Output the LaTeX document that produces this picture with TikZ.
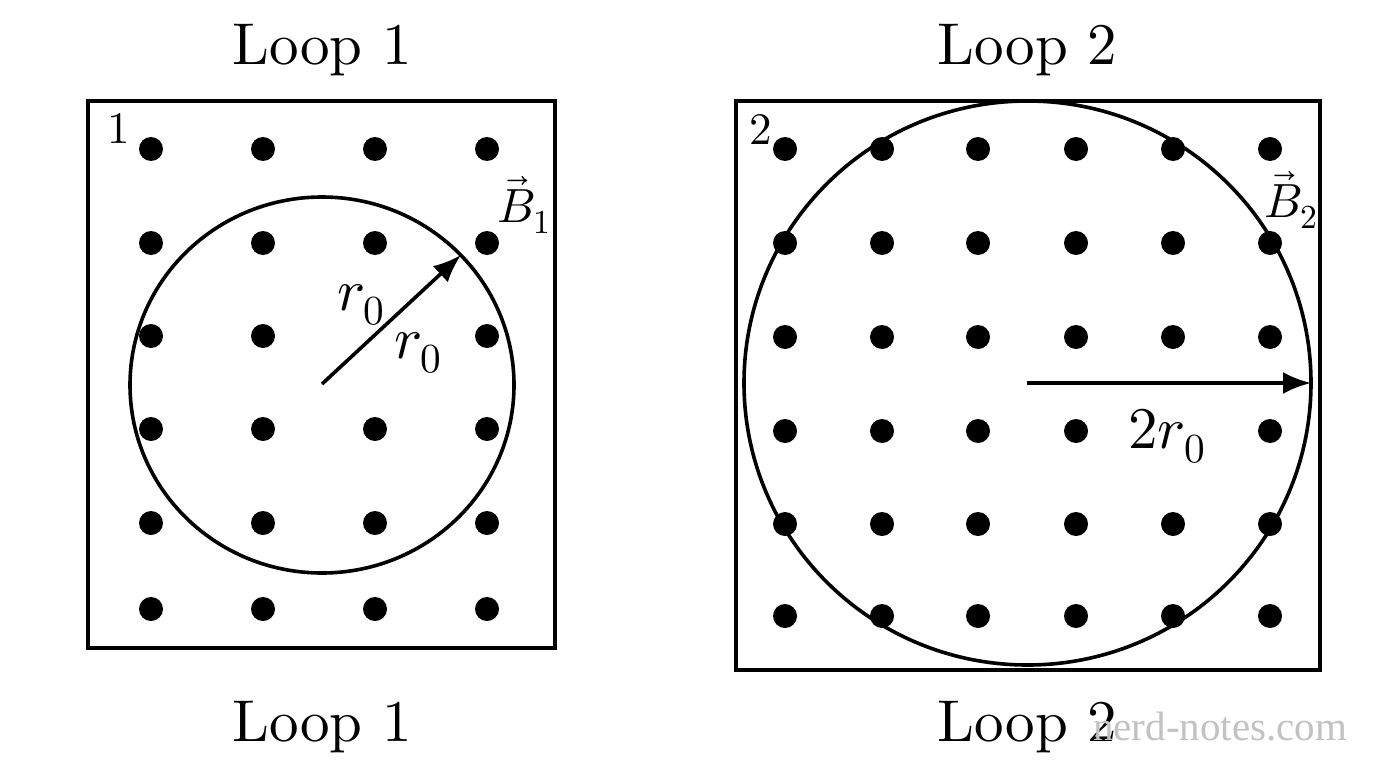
\documentclass[tikz,border=0pt]{standalone}
\usepackage{fontspec}
\usepackage{unicode-math}
\setmainfont{lmroman10-regular}[Extension=.otf]
\setmathfont{Latin Modern Math}
\usetikzlibrary{arrows.meta}
\newfontfamily\wmfont{Liberation Serif}
\tikzset{
  frame/.style={line width=3.4pt},
  loopline/.style={line width=3.6pt},
  radius arrow/.style={line width=3.6pt, -{Latex[length=28pt,width=22pt]}},
  bigtext/.style={inner sep=0pt, anchor=base, font=\fontsize{59}{59}\selectfont},
  mathlabel/.style={inner sep=0pt, anchor=base west, font=\fontsize{59}{59}\selectfont},
  blabel/.style={inner sep=0pt, anchor=base west, font=\fontsize{48}{48}\selectfont},
  cornerlabel/.style={inner sep=0pt, anchor=base west, font=\fontsize{45}{45}\selectfont},
  watermark/.style={inner sep=0pt, anchor=base west, text=black!24, font=\wmfont\fontsize{41}{41}\selectfont}
}
\begin{document}
\begin{tikzpicture}[x=1pt,y=-1pt]
\useasboundingbox (0,0) rectangle (1376,768);
\fill[white] (0,0) rectangle (1376,768);

% ---------- Loop 1 ----------
\draw[frame] (88,101) rectangle (555,648);
\foreach \x in {151,263,375,487}
  \foreach \y in {149,243,336,429,523,609}
    {\ifnum\x=375 \ifnum\y=336 \else \fill (\x,\y) circle[radius=12];\fi
     \else \fill (\x,\y) circle[radius=12];\fi}
\draw[loopline] (322,385) ellipse[x radius=192, y radius=188];
\coordinate (c1) at (322,384);
\coordinate (t1) at (461,255);
\draw[radius arrow] (c1) -- (t1);
\node[mathlabel] (r1a) at (337,310) {$r_0$};
\node[mathlabel] (r1b) at (394,358) {$r_0$};
\node[blabel] (B1) at (497,222) {$\vec{B}_1$};
\node[cornerlabel] (n1) at (107,143) {1};
\node[bigtext] (L1top) at (322,64) {Loop 1};
\node[bigtext] (L1bot) at (322,741) {Loop 1};

% ---------- Loop 2 ----------
\draw[frame] (736,101) rectangle (1320,670);
\foreach \x in {785,882,978,1076,1173,1270}
  \foreach \y in {149,243,337,431,524,616}
    {\ifnum\x=1173 \ifnum\y=431 \else \fill (\x,\y) circle[radius=12];\fi
     \else \fill (\x,\y) circle[radius=12];\fi}
\draw[loopline] (1027.5,383) ellipse[x radius=283.5, y radius=282];
\coordinate (c2) at (1027,383);
\coordinate (t2) at (1311,383);
\draw[radius arrow] (c2) -- (t2);
\node[mathlabel] (r2) at (1128,448) {$2r_0$};
\node[blabel] (B2) at (1264,217) {$\vec{B}_2$};
\node[cornerlabel] (n2) at (749,144) {2};
\node[bigtext] (L2top) at (1027.5,64) {Loop 2};
\node[bigtext] (L2bot) at (1027.5,741) {Loop 2};

% watermark
\node[watermark] (wm) at (1093,740) {nerd-notes.com};
\end{tikzpicture}
\end{document}
